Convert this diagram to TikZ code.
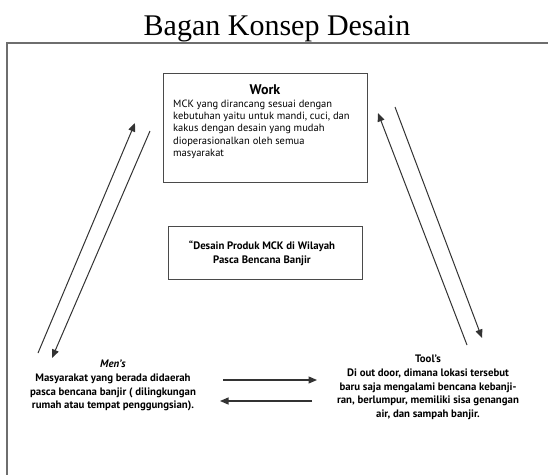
\documentclass[tikz,border=0pt]{standalone}
\usepackage{fontspec}
\setmainfont{Liberation Serif}
\newfontfamily\bodyfont{PT Sans}
\usetikzlibrary{arrows.meta}
\definecolor{linec}{HTML}{333333}
\definecolor{boxgray}{HTML}{4A4A4A}
\definecolor{framec}{HTML}{6E6E6E}
\begin{document}
\begin{tikzpicture}[x=1pt,y=-1pt,
  boxc/.style={draw=boxgray, line width=1.3pt, inner sep=0pt},
  conn/.style={draw=linec, line width=1pt, -{Triangle[length=8.5pt,width=7pt]}},
  bodytxt/.style={font=\bodyfont\fontsize{10.5}{12.4}\selectfont, inner sep=0pt, align=left},
  boldtxt/.style={font=\bodyfont\bfseries\fontsize{10.8}{13.6}\selectfont, inner sep=0pt, align=center}]
\useasboundingbox (0,0) rectangle (548,474);
\fill[white] (0,0) rectangle (548,474);
% title
\node[font=\fontsize{30}{36}\selectfont, anchor=base, inner sep=0pt] (title) at (277,35) {Bagan Konsep Desain};
% frame
\draw[framec, line width=1.5pt] (7,476) -- (7,43) -- (550,43);
% boxes
\node[boxc, minimum width=204pt, minimum height=109pt, anchor=north west] (work) at (163,73) {};
\node[font=\bodyfont\bfseries\fontsize{14}{16}\selectfont, anchor=base, inner sep=0pt] (worktitle) at (265,94) {Work};
\node[bodytxt, anchor=north west] (workbody) at (173,99.5) {MCK yang dirancang sesuai dengan\\kebutuhan yaitu untuk mandi, cuci, dan\\kakus dengan desain yang mudah\\dioperasionalkan oleh semua\\masyarakat};
\node[boxc, minimum width=194pt, minimum height=53pt, anchor=north west] (design) at (168,226) {};
\node[boldtxt, anchor=north] (designtxt) at (262,241) {“Desain Produk MCK di Wilayah\\Pasca Bencana Banjir};
% bottom texts
\node[boldtxt, anchor=north] (men) at (113,360) {\itshape Men’s\\Masyarakat yang berada didaerah\\pasca bencana banjir ( dilingkungan\\rumah atau tempat penggungsian).};
\node[boldtxt, anchor=north] (tool) at (428,355) {Tool’s\\Di out door, dimana lokasi tersebut\\baru saja mengalami bencana kebanji-\\ran, berlumpur, memiliki sisa genangan\\air, dan sampah banjir.};
% arrow end points
\coordinate (mu1) at (38,353); \coordinate (mu2) at (135,123);
\coordinate (md1) at (150,131); \coordinate (md2) at (52,358);
\coordinate (tu1) at (467,345); \coordinate (tu2) at (378,113);
\coordinate (td1) at (395,107); \coordinate (td2) at (482,338);
\coordinate (hr1) at (223,380); \coordinate (hr2) at (317,380);
\coordinate (hl1) at (312,401); \coordinate (hl2) at (220,401);
\draw[conn] (mu1) -- (mu2);
\draw[conn] (md1) -- (md2);
\draw[conn] (tu1) -- (tu2);
\draw[conn] (td1) -- (td2);
\draw[conn, line width=1.2pt] (hr1) -- (hr2);
\draw[conn, line width=1.2pt] (hl1) -- (hl2);
\end{tikzpicture}
\end{document}
